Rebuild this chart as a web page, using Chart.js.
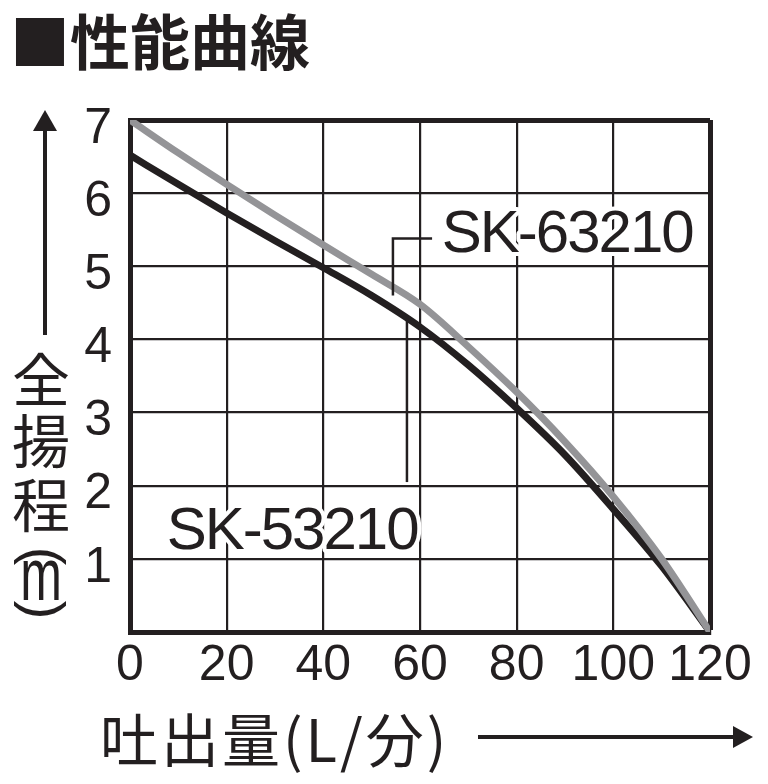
<!DOCTYPE html>
<html lang="ja">
<head>
<meta charset="utf-8">
<title>性能曲線</title>
<script src="https://cdn.jsdelivr.net/npm/chart.js@4.4.1/dist/chart.umd.min.js"></script>
<style>
  html, body { margin: 0; padding: 0; background: #fff; }
  #wrap { width: 768px; height: 784px; position: relative; }
</style>
</head>
<body>
<div id="wrap"><canvas id="chart"></canvas></div>
<script>
// 吐出量 (L/分) and 全揚程 (m)
const flowLpm = [0, 10, 20, 30, 40, 50, 60, 70, 80, 90, 100, 110, 120];
const headSK63210 = [7.0, 6.55, 6.12, 5.7, 5.29, 4.89, 4.48, 3.9, 3.28, 2.6, 1.85, 1.0, 0];
const headSK53210 = [6.52, 6.12, 5.73, 5.35, 4.98, 4.6, 4.17, 3.65, 3.06, 2.42, 1.68, 0.9, 0];

const seriesNames = ['SK-63210', 'SK-53210'];
const xMax = 120, xStep = 20;
const yMax = 7, yStep = 1;

const INK = '#231f20';
const GRAY = '#949497';
const LABEL_FONT = '"Liberation Sans", Arial, sans-serif';
const CJK_FONT = '"Noto Sans CJK JP", "Noto Sans CJK SC", sans-serif';

const points = ys => flowLpm.map((x, i) => ({ x, y: ys[i] }));

// model labels and their leader lines, in data units
const callouts = [
  { text: seriesNames[0], at: [64.5, 5.19], leader: [[62.5, 5.38], [54.4, 5.38], [54.4, 4.6]] },
  { text: seriesNames[1], at: [7.6, 1.13], leader: [[57.3, 4.28], [57.3, 2.05]] }
];

const overlay = {
  id: 'overlay',
  afterDatasetsDraw(chart) {
    const { ctx, scales: { x, y } } = chart;
    ctx.save();
    callouts.forEach(c => {
      ctx.strokeStyle = INK;
      ctx.lineWidth = 2.5;
      ctx.beginPath();
      c.leader.forEach(([lx, ly], i) => {
        const px = x.getPixelForValue(lx), py = y.getPixelForValue(ly);
        i ? ctx.lineTo(px, py) : ctx.moveTo(px, py);
      });
      ctx.stroke();

      ctx.font = '60px ' + LABEL_FONT;
      ctx.letterSpacing = '-2px';
      ctx.textAlign = 'left';
      ctx.textBaseline = 'alphabetic';
      const tx = x.getPixelForValue(c.at[0]), ty = y.getPixelForValue(c.at[1]);
      ctx.strokeStyle = '#fff';
      ctx.lineWidth = 8;
      ctx.lineJoin = 'round';
      ctx.strokeText(c.text, tx, ty);
      ctx.fillStyle = INK;
      ctx.fillText(c.text, tx, ty);
    });
    ctx.restore();
  },
  afterDraw(chart) {
    const { ctx } = chart;
    ctx.save();
    ctx.fillStyle = INK;
    ctx.strokeStyle = INK;

    // heading
    ctx.font = 'bold 60px ' + CJK_FONT;
    ctx.textAlign = 'left';
    ctx.textBaseline = 'middle';
    ctx.fillText('■性能曲線', 10, 42);

    // x axis title and arrow
    ctx.font = '58px ' + CJK_FONT;
    ctx.letterSpacing = '3px';
    ctx.fillText('吐出量(L/分)', 100, 740);
    ctx.letterSpacing = '0px';
    ctx.lineWidth = 4;
    ctx.beginPath();
    ctx.moveTo(478, 737);
    ctx.lineTo(736, 737);
    ctx.stroke();
    ctx.beginPath();
    ctx.moveTo(753, 737);
    ctx.lineTo(733, 726);
    ctx.lineTo(733, 748);
    ctx.closePath();
    ctx.fill();

    // y axis arrow and vertical title
    ctx.beginPath();
    ctx.moveTo(45, 335);
    ctx.lineTo(45, 128);
    ctx.stroke();
    ctx.beginPath();
    ctx.moveTo(45, 110);
    ctx.lineTo(33, 131);
    ctx.lineTo(57, 131);
    ctx.closePath();
    ctx.fill();

    ctx.textAlign = 'center';
    ctx.font = '58px ' + CJK_FONT;
    [['全', 380], ['揚', 441], ['程', 505]].forEach(([ch, cy]) => ctx.fillText(ch, 41, cy));

    ctx.font = '56px ' + LABEL_FONT;
    [['(', 556], [')', 610]].forEach(([ch, cy]) => {
      ctx.save();
      ctx.translate(41, cy);
      ctx.rotate(Math.PI / 2);
      ctx.fillText(ch, 0, 0);
      ctx.restore();
    });
    ctx.save();
    ctx.translate(41, 582);
    ctx.scale(1, 1.5);
    ctx.font = '50px ' + LABEL_FONT;
    ctx.fillText('m', 0, -2);
    ctx.restore();

    ctx.restore();
  }
};

const edgeWidth = (ctx, edge) => (ctx.tick && ctx.tick.value === edge ? 5 : 2.2);

new Chart(document.getElementById('chart'), {
  type: 'line',
  data: {
    datasets: [
      {
        label: seriesNames[0],
        data: points(headSK63210),
        borderColor: GRAY,
        borderWidth: 7,
        pointRadius: 0,
        cubicInterpolationMode: 'monotone'
      },
      {
        label: seriesNames[1],
        data: points(headSK53210),
        borderColor: INK,
        borderWidth: 7,
        pointRadius: 0,
        cubicInterpolationMode: 'monotone'
      }
    ]
  },
  options: {
    responsive: true,
    maintainAspectRatio: false,
    animation: false,
    layout: { padding: { top: 120, right: 58, left: 0, bottom: 0 } },
    plugins: { legend: { display: false }, tooltip: { enabled: false } },
    scales: {
      x: {
        type: 'linear',
        min: 0,
        max: xMax,
        afterFit: s => { s.height = 152; },
        ticks: {
          stepSize: xStep,
          padding: 4,
          color: INK,
          font: { family: LABEL_FONT, size: 50 }
        },
        grid: { color: INK, lineWidth: c => edgeWidth(c, xMax), drawTicks: false },
        border: { display: true, color: INK, width: 5 }
      },
      y: {
        min: 0,
        max: yMax,
        afterFit: s => { s.width = 130; },
        ticks: {
          stepSize: yStep,
          padding: 18,
          labelOffset: 9,
          color: INK,
          font: { family: LABEL_FONT, size: 50 },
          callback: v => (v === 0 ? '' : v)
        },
        grid: { color: INK, lineWidth: c => edgeWidth(c, yMax), drawTicks: false },
        border: { display: true, color: INK, width: 5 }
      }
    }
  },
  plugins: [overlay]
});
</script>
</body>
</html>
